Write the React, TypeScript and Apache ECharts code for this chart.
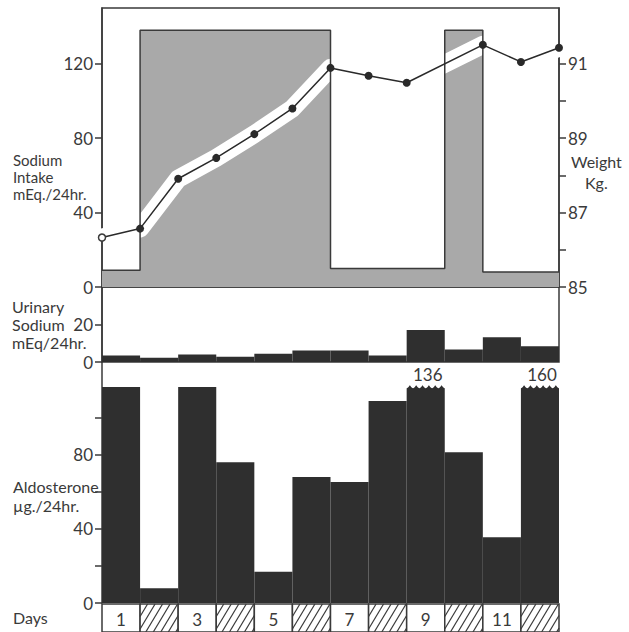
import React, { useEffect, useRef } from 'react';
import * as echarts from 'echarts';

const dayNumbers = ['1', '2', '3', '4', '5', '6', '7', '8', '9', '10', '11', '12'];
const dayBoxLabels = ['1', '', '3', '', '5', '', '7', '', '9', '', '11', ''];
const sodiumIntake = [9, 138, 138, 138, 138, 138, 10, 10, 10, 138, 8, 8];
const weightDay = [0, 1, 2, 3, 4, 5, 6, 7, 8, 10, 11, 12];
const weightKg = [86.33, 86.57, 87.91, 88.47, 89.11, 89.8, 90.89, 90.68, 90.49, 91.51, 91.05, 91.43];
const urinarySodium = [3.5, 2.3, 4.1, 2.8, 4.4, 6.2, 6.2, 3.5, 17.3, 6.7, 13.3, 8.5];
const aldosterone = [116.5, 7.9, 116.5, 75.9, 16.9, 68, 65.3, 109, 136, 81.3, 35.4, 160];
const aldoBreakAt = 117.5;
const intakeTicks = [0, 40, 80, 120];
const weightTicks = [85, 86, 87, 88, 89, 90, 91];
const weightLabels = [85, 87, 89, 91];
const urinaryTicks = [0, 20];
const aldoTicks = [0, 20, 40, 60, 80, 100];
const aldoLabels = [0, 40, 80];

const FONT = 'Lato, "Liberation Sans", sans-serif';
const INK = '#3a3a3a';
const BAR = '#2f2f2f';
const SHADE = '#a9a9a9';
const L = 102;
const W = 457;

export default function App() {
  const ref = useRef<HTMLDivElement>(null);
  useEffect(() => {
    if (!ref.current) return;
    const chart = echarts.init(ref.current, null, { renderer: 'svg' });
    const axisLine = { show: true, lineStyle: { color: INK, width: 1.5 } };
    const tickStyle = { color: INK, width: 1.5 };
    const label = { color: INK, fontSize: 17, fontFamily: FONT, margin: 9 };
    const intakeSteps = sodiumIntake
      .map((v, i) => [i, v])
      .concat([[sodiumIntake.length, sodiumIntake[sodiumIntake.length - 1]]]);
    const weightPts = weightDay.map((d, i) => [d, weightKg[i]]);

    chart.setOption({
      animation: false,
      backgroundColor: '#ffffff',
      grid: [
        { left: L, width: W, top: 8, height: 279, show: true, borderColor: INK, borderWidth: 1.5 },
        { left: L, width: W, top: 287, height: 75, show: true, borderColor: INK, borderWidth: 1.5 },
        { left: L, width: W, top: 362, height: 241 },
        { left: L, width: W, top: 604, height: 40 },
      ],
      xAxis: [
        { gridIndex: 0, type: 'value', min: 0, max: 12, show: false },
        { gridIndex: 1, type: 'category', data: dayNumbers, show: false },
        { gridIndex: 2, type: 'category', data: dayNumbers, show: false },
        { gridIndex: 3, type: 'category', data: dayNumbers, show: false },
      ],
      yAxis: [
        {
          gridIndex: 0, type: 'value', min: 0, max: 150, position: 'left',
          axisLine, axisTick: { show: true, length: 7, customValues: intakeTicks, lineStyle: tickStyle },
          axisLabel: { ...label, customValues: intakeTicks }, splitLine: { show: false },
        },
        {
          gridIndex: 0, type: 'value', min: 85, max: 92.5, position: 'right',
          axisLine, axisTick: { show: true, length: 7, customValues: weightTicks, lineStyle: tickStyle },
          axisLabel: { ...label, customValues: weightLabels }, splitLine: { show: false },
        },
        {
          gridIndex: 1, type: 'value', min: 0, max: 40.5, position: 'left',
          axisLine, axisTick: { show: true, length: 7, customValues: urinaryTicks, lineStyle: tickStyle },
          axisLabel: { ...label, customValues: urinaryTicks }, splitLine: { show: false },
        },
        {
          gridIndex: 2, type: 'value', min: 0, max: 130, position: 'left',
          axisLine, axisTick: { show: true, length: 7, customValues: aldoTicks, lineStyle: tickStyle },
          axisLabel: { ...label, customValues: aldoLabels }, splitLine: { show: false },
        },
        { gridIndex: 3, type: 'value', min: 0, max: 1, show: false },
      ],
      series: [
        {
          type: 'line', xAxisIndex: 0, yAxisIndex: 0, step: 'end', data: intakeSteps,
          symbol: 'none', lineStyle: { width: 0, color: SHADE }, areaStyle: { color: SHADE, opacity: 1 }, z: 1,
        },
        {
          type: 'line', xAxisIndex: 0, yAxisIndex: 1, data: weightPts, symbol: 'none',
          lineStyle: { color: '#ffffff', width: 18, join: 'round' }, z: 2,
        },
        {
          type: 'line', xAxisIndex: 0, yAxisIndex: 0, step: 'end', data: intakeSteps,
          symbol: 'none', lineStyle: { width: 1.5, color: INK }, z: 3,
        },
        {
          type: 'line', xAxisIndex: 0, yAxisIndex: 1,
          data: weightPts.map((p, i) => (i === 0
            ? { value: p, symbolSize: 7, itemStyle: { color: '#ffffff', borderColor: INK, borderWidth: 1.5 } }
            : { value: p })),
          symbol: 'circle', symbolSize: 8,
          itemStyle: { color: '#2a2a2a' }, lineStyle: { color: '#2a2a2a', width: 1.5 }, z: 4,
        },
        {
          type: 'bar', xAxisIndex: 1, yAxisIndex: 2, data: urinarySodium,
          barWidth: '100%', barCategoryGap: '0%', itemStyle: { color: BAR },
        },
        {
          type: 'custom', xAxisIndex: 2, yAxisIndex: 3,
          data: aldosterone.map((v, i) => [i, v]), encode: { x: 0, y: 1 },
          renderItem: (params: any, api: any) => {
            const i = api.value(0);
            const v = api.value(1);
            const shown = Math.min(v, aldoBreakAt);
            const base = api.coord([i, 0]);
            const top = api.coord([i, shown]);
            const w = api.size([1, 0])[0];
            const x0 = base[0] - w / 2;
            const x1 = base[0] + w / 2;
            if (v <= aldoBreakAt) {
              return { type: 'rect', shape: { x: x0, y: top[1], width: w, height: base[1] - top[1] }, style: { fill: BAR } };
            }
            const pts: number[][] = [[x0, base[1]]];
            const n = 60;
            const bumps = 6;
            for (let k = 0; k <= n; k++) {
              const s = k / n;
              pts.push([x0 + s * w, top[1] + 3 * Math.abs(Math.cos(Math.PI * bumps * s))]);
            }
            pts.push([x1, base[1]]);
            return {
              type: 'group',
              children: [
                { type: 'polygon', shape: { points: pts }, style: { fill: BAR } },
                {
                  type: 'text', x: base[0] + 2, y: top[1] - 2,
                  style: { text: String(v), fill: INK, font: `17px ${FONT}`, textAlign: 'center', textVerticalAlign: 'bottom' },
                },
              ],
            };
          },
        },
        {
          type: 'custom', xAxisIndex: 3, yAxisIndex: 4,
          data: dayNumbers.map((d, i) => [i, 1]), encode: { x: 0, y: 1 },
          renderItem: (params: any, api: any) => {
            const i = api.value(0);
            const tl = api.coord([i, 1]);
            const bl = api.coord([i, 0]);
            const w = api.size([1, 0])[0];
            const x0 = tl[0] - w / 2;
            const x1 = tl[0] + w / 2;
            const y0 = tl[1];
            const y1 = bl[1];
            const h = y1 - y0;
            const children: any[] = [
              { type: 'rect', shape: { x: x0, y: y0, width: w, height: h }, style: { fill: '#ffffff', stroke: INK, lineWidth: 1.5 } },
            ];
            const lbl = dayBoxLabels[i];
            if (lbl) {
              children.push({
                type: 'text', x: tl[0], y: y0 + 15,
                style: { text: lbl, fill: INK, font: `17px ${FONT}`, textAlign: 'center', textVerticalAlign: 'middle' },
              });
            } else {
              const k = 0.6;
              const step = 7.5;
              for (let c = x0 - k * h; c < x1; c += step) {
                let ax = c, ay = y1;
                if (ax < x0) { ay = y1 - (x0 - c) / k; ax = x0; }
                let bx = c + k * h, by = y0;
                if (bx > x1) { by = y1 - (x1 - c) / k; bx = x1; }
                if (ay <= by) continue;
                children.push({ type: 'line', shape: { x1: ax, y1: ay, x2: bx, y2: by }, style: { stroke: INK, lineWidth: 1.2 } });
              }
            }
            return { type: 'group', children };
          },
        },
      ],
      graphic: [
        { type: 'text', left: 13, top: 151, style: { text: 'Sodium\nIntake\nmEq./24hr.', font: `15px ${FONT}`, fill: INK, lineHeight: 17 } },
        { type: 'text', left: 12, top: 297, style: { text: 'Urinary\nSodium\nmEq/24hr.', font: `16px ${FONT}`, fill: INK, lineHeight: 18 } },
        { type: 'text', left: 13, top: 477, style: { text: 'Aldosterone\nµg./24hr.', font: `16px ${FONT}`, fill: INK, lineHeight: 19 } },
        { type: 'text', left: 571, top: 153, style: { text: 'Weight', font: `16px ${FONT}`, fill: INK } },
        { type: 'text', left: 585, top: 174, style: { text: 'Kg.', font: `16px ${FONT}`, fill: INK } },
        { type: 'text', left: 13, top: 609, style: { text: 'Days', font: `16px ${FONT}`, fill: INK } },
      ],
    });
    return () => chart.dispose();
  }, []);
  return <div ref={ref} style={{ position: 'fixed', left: 0, top: 0, width: 629, height: 632, background: '#fff' }} />;
}
